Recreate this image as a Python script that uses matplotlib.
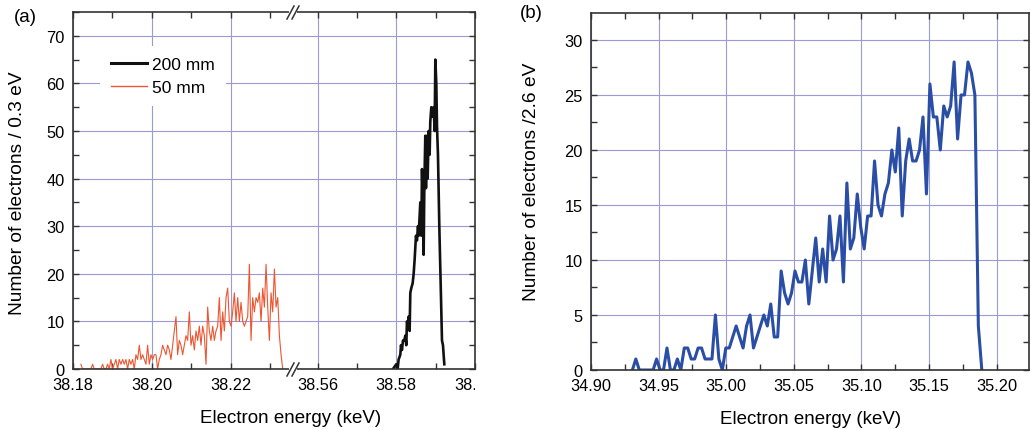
import numpy as np
import matplotlib
matplotlib.use('Agg')
import matplotlib.pyplot as plt
from matplotlib.lines import Line2D
from matplotlib.ticker import MultipleLocator, FixedLocator, FormatStrFormatter
from matplotlib.transforms import Bbox, TransformedBbox

plt.rcParams['font.family'] = ['Liberation Sans', 'DejaVu Sans']

# ---- data ----
# (a) 50 mm, 0.3 eV bins, energies in keV
e50_start, e50_end = 38.1820, 38.2331
n50 = [1, 0, 0, 0, 0, 0, 0, 1, 0, 0,
       0, 0, 0, 1, 0, 0, 1, 0, 2, 0,
       1, 2, 0, 2, 1, 2, 1, 2, 0, 2,
       1, 2, 0, 3, 2, 5, 2, 3, 2, 1,
       5, 1, 3, 2, 3, 3, 0, 2, 3, 5,
       4, 3, 5, 4, 2, 5, 8, 11, 3, 6,
       5, 3, 5, 7, 6, 12, 5, 7, 4, 8,
       6, 9, 5, 9, 7, 1, 13, 8, 6, 9,
       6, 8, 9, 15, 6, 12, 8, 15, 17, 10,
       9, 12, 16, 10, 15, 10, 14, 10, 9, 10,
       11, 22, 6, 15, 12, 15, 14, 16, 10, 17,
       13, 22, 13, 6, 16, 12, 21, 13, 15, 7,
       3, 0]

# (a) 200 mm
e200 = [38.57915, 38.58000, 38.58034, 38.58059, 38.58102, 38.58119, 38.58144,
        38.58170, 38.58203, 38.58229, 38.58254, 38.58271, 38.58297, 38.58314,
        38.58339, 38.58356, 38.58381, 38.58415, 38.58441, 38.58466, 38.58500,
        38.58525, 38.58551, 38.58568, 38.58610, 38.58636, 38.58653, 38.58678,
        38.58695, 38.58712, 38.58737, 38.58754, 38.58780, 38.58797, 38.58822,
        38.58847, 38.58864, 38.58890, 38.58924, 38.58949, 38.58975, 38.58992,
        38.59017, 38.59034, 38.59059, 38.59093, 38.59136, 38.59161, 38.59186,
        38.59220]
n200 = [0, 1, 0, 2, 3, 5, 4, 6, 6, 7,
        5, 10, 9, 11, 8, 16, 17, 18, 20, 23,
        28, 27, 30, 28, 35, 28, 42, 33, 24, 38,
        49, 38, 49, 40, 50, 45, 52, 55, 53, 55,
        50, 65, 60, 51, 45, 30, 15, 6, 5, 1]

# (b) 2.6 eV bins
eb_start, eb_end = 34.9306, 35.1890
nb = [0, 1, 0, 0, 0, 0, 0, 1, 0, 0,
      2, 0, 0, 1, 0, 2, 2, 1, 1, 2,
      2, 1, 1, 1, 5, 1, 0, 2, 2, 3,
      4, 3, 2, 4, 5, 2, 3, 4, 5, 4,
      6, 3, 3, 9, 7, 6, 7, 9, 8, 8,
      10, 6, 9, 12, 8, 11, 8, 14, 10, 11,
      14, 8, 17, 11, 12, 16, 13, 11, 14, 14,
      19, 15, 14, 16, 17, 20, 18, 22, 14, 19,
      21, 19, 19, 20, 23, 16, 26, 23, 23, 20,
      24, 23, 24, 28, 21, 25, 25, 28, 27, 25,
      4, 0]

e50 = np.linspace(e50_start, e50_end, len(n50))
eb = np.linspace(eb_start, eb_end, len(nb))

W, H = 1031, 431
fig = plt.figure(figsize=(W / 100, H / 100), dpi=100)

def box(l, r, t, b):
    return [l / W, 1 - b / H, (r - l) / W, (b - t) / H]

gridc = '#9a9ad6'
spc = '#333333'

a1 = fig.add_axes(box(73, 293, 13, 370))
a2 = fig.add_axes(box(293, 475, 13, 370))
ab = fig.add_axes(box(591, 1029, 14, 371))

for ax in (a1, a2, ab):
    ax.grid(True, which='major', color=gridc, lw=0.8)
    ax.set_axisbelow(True)
    ax.tick_params(direction='in', which='both', top=True, length=4, width=1,
                   labelsize=11.8, pad=6, color=spc)
    for s in ax.spines.values():
        s.set_linewidth(1.2)
        s.set_color(spc)

# (a) left part
a1.plot(e50, n50, color='#ee5530', lw=0.8)
a1.set_xlim(38.18, 38.2357)
a1.set_ylim(0, 75)
a1.xaxis.set_major_locator(FixedLocator([38.18, 38.20, 38.22]))
a1.xaxis.set_minor_locator(FixedLocator([38.19, 38.21, 38.23]))
a1.xaxis.set_major_formatter(FormatStrFormatter('%.2f'))
a1.yaxis.set_major_locator(MultipleLocator(10))
a1.yaxis.set_minor_locator(MultipleLocator(5))
a1.spines['right'].set_visible(False)
a1.tick_params(which='both', right=False)

# (a) right part
a2.plot(e200, n200, color='#111111', lw=1.9)
a2.set_xlim(38.55375, 38.60)
a2.set_ylim(0, 75)
a2.xaxis.set_major_locator(FixedLocator([38.56, 38.58, 38.60]))
a2.xaxis.set_minor_locator(FixedLocator([38.57, 38.59]))
a2.xaxis.set_major_formatter(FormatStrFormatter('%.2f'))
a2.yaxis.set_major_locator(MultipleLocator(10))
a2.yaxis.set_minor_locator(MultipleLocator(5))
a2.spines['left'].set_visible(False)
a2.tick_params(which='both', left=False, right=True, labelleft=False)

h1 = Line2D([], [], color='#111111', lw=2.2)
h2 = Line2D([], [], color='#ee5530', lw=1.0)
leg = a1.legend([h1, h2], ['200 mm', '50 mm'], loc='upper left',
                bbox_to_anchor=((100 - 73) / 220, (370 - 47) / 357),
                borderaxespad=0, borderpad=0.65, handlelength=2.07,
                handletextpad=0.29, labelspacing=0.42, fontsize=12.5,
                frameon=True, fancybox=False, framealpha=1,
                facecolor='white', edgecolor='none')

# (b)
ab.plot(eb, nb, color='#2a4ea6', lw=2.2)
ab.set_xlim(34.90, 35.2239)
ab.set_ylim(0, 32.45)
ab.xaxis.set_major_locator(MultipleLocator(0.05))
ab.xaxis.set_minor_locator(MultipleLocator(0.025))
ab.xaxis.set_major_formatter(FormatStrFormatter('%.2f'))
ab.yaxis.set_major_locator(MultipleLocator(5))
ab.yaxis.set_minor_locator(MultipleLocator(2.5))
ab.tick_params(which='both', right=True)

# axis break marks
def px_line(xs, ys, **kw):
    fig.add_artist(Line2D([x / W for x in xs], [1 - y / H for y in ys],
                          transform=fig.transFigure, **kw))

for yb in (13, 370):
    px_line([289, 297], [yb, yb], color='white', lw=3, solid_capstyle='butt')
    px_line([287, 294], [yb + 7, yb - 6], color=spc, lw=1.1)
    px_line([292, 299], [yb + 7, yb - 6], color=spc, lw=1.1)

# texts
fig.text(25 / W, 1 - 18 / H, '(a)', ha='center', va='center', fontsize=13.5)
fig.text(531 / W, 1 - 14 / H, '(b)', ha='center', va='center', fontsize=13.5)
fig.text(18 / W, 1 - 193 / H, 'Number of electrons / 0.3 eV', rotation=90,
         ha='center', va='center', fontsize=13.8)
fig.text(532 / W, 1 - 182 / H, 'Number of electrons /2.6 eV', rotation=90,
         ha='center', va='center', fontsize=13.8)
fig.text(291 / W, 1 - 419 / H, 'Electron energy (keV)', ha='center',
         va='center', fontsize=13.5)
fig.text(811 / W, 1 - 420 / H, 'Electron energy (keV)', ha='center',
         va='center', fontsize=13.5)

# the last tick label of (a) is cut at the panel edge
fig.canvas.draw()
clip = TransformedBbox(Bbox.from_extents(0, 0, 475 / W, 1), fig.transFigure)
lab = a2.xaxis.get_major_ticks()[-1].label1
lab.set_clip_box(clip)
lab.set_clip_on(True)

fig.savefig('out.png', dpi=100)
